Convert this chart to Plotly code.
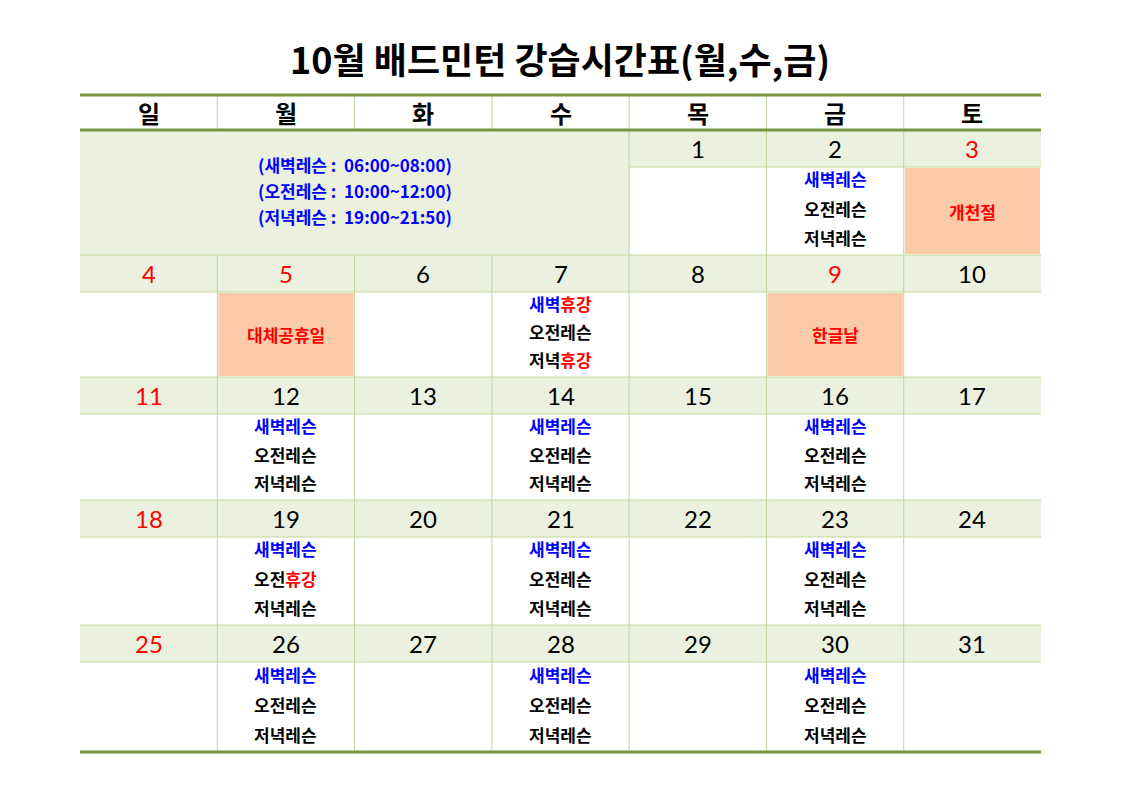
import plotly.graph_objects as go

title = "10월 배드민턴 강습시간표(월,수,금)"
weekdays = ["일", "월", "화", "수", "목", "금", "토"]
weeks = [
    [None, None, None, None, 1, 2, 3],
    [4, 5, 6, 7, 8, 9, 10],
    [11, 12, 13, 14, 15, 16, 17],
    [18, 19, 20, 21, 22, 23, 24],
    [25, 26, 27, 28, 29, 30, 31],
]
red_days = [3, 4, 5, 9, 11, 18, 25]
holidays = {3: "개천절", 5: "대체공휴일", 9: "한글날"}
lesson_days = [2, 7, 12, 14, 16, 19, 21, 23, 26, 28, 30]
# status per day: (새벽, 오전, 저녁) True=레슨, False=휴강
cancel = {7: (False, True, False), 19: (True, False, True)}
info_lines = ["(새벽레슨 :  06:00~08:00)", "(오전레슨 :  10:00~12:00)", "(저녁레슨 :  19:00~21:50)"]

X0, X1 = 80, 1041
CW = (X1 - X0) / 7
week_tops = [130, 255, 377, 500, 625]
week_bots = [255, 377, 500, 625, 752]
DH = 37
FONT = "Noto Sans CJK KR"
NUMFONT = "Lato"
GREEN = "#77933c"; LGREEN = "#c3d69b"; DATEFILL = "#ebf1de"; HOL = "#fbcaa9"

fig = go.Figure()
shapes = []; ann = []
def rect(x0, y0, x1, y1, fill):
    shapes.append(dict(type="rect", x0=x0, x1=x1, y0=y0, y1=y1, fillcolor=fill, line=dict(width=0), layer="below"))
def line(x0, y0, x1, y1, c, w):
    shapes.append(dict(type="line", x0=x0, x1=x1, y0=y0, y1=y1, line=dict(color=c, width=w)))
def text(x, y, t, size, color="black", fam=FONT):
    ann.append(dict(x=x, y=y, text=t, showarrow=False, xanchor="center", yanchor="middle",
                    font=dict(family=fam, size=size, color=color)))

ann.append(dict(x=560, y=58, text="<b>" + title + "</b>", showarrow=False, font=dict(family=FONT, size=36, color="black")))
for i, w in enumerate(weekdays):
    text(X0 + CW * (i + .5), 112, "<b>" + w + "</b>", 24)

for wi, week in enumerate(weeks):
    top, bot = week_tops[wi], week_bots[wi]
    if wi == 0:
        rect(X0, top, X0 + 4 * CW, bot, DATEFILL)
        rect(X0 + 4 * CW, top, X1, top + DH, DATEFILL)
        for k, l in enumerate(info_lines):
            text(X0 + 2 * CW, 164 + 26 * k, "<b>" + l + "</b>", 17, "#0000ff")
    else:
        rect(X0, top, X1, top + DH, DATEFILL)
    for ci, d in enumerate(week):
        if d is None:
            continue
        cx = X0 + CW * (ci + .5)
        text(cx, top + DH / 2, str(d), 24, "#ff0000" if d in red_days else "black", NUMFONT)
        cy0, cy1 = top + DH, bot
        if d in holidays:
            rect(X0 + CW * ci + 1, cy0 + 1, X0 + CW * (ci + 1) - 1, cy1 - 1, HOL)
            text(cx, (cy0 + cy1) / 2, "<b>" + holidays[d] + "</b>", 17, "#ff0000")
        if d in lesson_days:
            st = cancel.get(d, (True, True, True))
            names = [("새벽", "#0000ff"), ("오전", "black"), ("저녁", "black")]
            h = (cy1 - cy0) / 3
            for k, (n, c) in enumerate(names):
                suffix = "<span style='color:black'>레슨</span>" if k else "레슨"
                suffix = suffix if st[k] else "<span style='color:#ff0000'>휴강</span>"
                t = "<b><span style='color:%s'>%s</span>%s</b>" % (c, n, suffix)
                text(cx, cy0 + h * (k + .5) - 3, t, 17, c)

for wi in range(5):
    top = week_tops[wi]
    if wi > 0:
        line(X0, top, X1, top, LGREEN, 1)
    x_start = X0 + 4 * CW if wi == 0 else X0
    line(x_start, top + DH, X1, top + DH, LGREEN, 1)
for i in range(1, 7):
    line(X0 + CW * i, 95, X0 + CW * i, 130, LGREEN, 1)
    y_start = 130 if i >= 4 else 255
    line(X0 + CW * i, y_start, X0 + CW * i, 752, LGREEN, 1)
line(X0, 95, X1, 95, GREEN, 3)
line(X0, 130, X1, 130, GREEN, 3)
line(X0, 752, X1, 752, GREEN, 3)

# page body has an 8px margin; shift axis ranges to compensate
fig.update_layout(width=1121, height=793, margin=dict(l=0, r=0, t=0, b=0),
                  plot_bgcolor="white", paper_bgcolor="white", shapes=shapes, annotations=ann,
                  xaxis=dict(range=[8, 1129], visible=False, fixedrange=True),
                  yaxis=dict(range=[801, 8], visible=False, fixedrange=True), showlegend=False)
fig.write_html("out.html", config={"displayModeBar": False})
